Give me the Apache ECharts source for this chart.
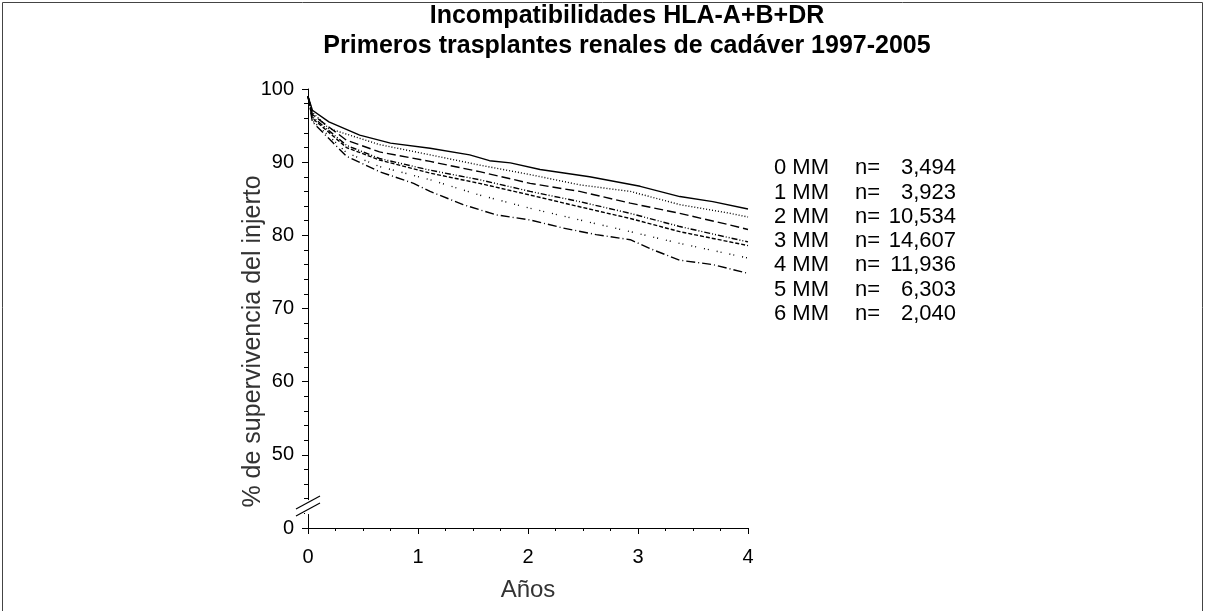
<!DOCTYPE html>
<html>
<head>
<meta charset="utf-8">
<script src="https://cdn.jsdelivr.net/npm/echarts@6/dist/echarts.min.js"></script>
<style>
  html, body { margin: 0; padding: 0; background: #fff; }
  #chart { width: 1205px; height: 611px; }
</style>
</head>
<body>
<div id="chart"></div>
<script>
const titleText = 'Incompatibilidades HLA-A+B+DR\nPrimeros trasplantes renales de cadáver 1997-2005';
const xName = 'Años';
const yName = '% de supervivencia del injerto';

const groupNames = ['0 MM', '1 MM', '2 MM', '3 MM', '4 MM', '5 MM', '6 MM'];
const groupCounts = ['3,494', '3,923', '10,534', '14,607', '11,936', '6,303', '2,040'];

// [años, % supervivencia]
const surv0 = [[0, 99], [0.04, 97.1], [0.19, 95.5], [0.47, 93.7], [0.75, 92.6], [1.11, 91.9], [1.47, 91.0], [1.65, 90.2], [1.84, 89.9], [2.11, 89.0], [2.56, 88.0], [3.02, 86.7], [3.38, 85.3], [3.68, 84.6], [4.0, 83.6]];
const surv1 = [[0, 99], [0.04, 96.8], [0.19, 94.6], [0.65, 92.4], [1.11, 91.0], [1.56, 89.6], [2.02, 88.3], [2.47, 86.9], [2.93, 86.0], [3.38, 84.2], [3.84, 83.0], [4.0, 82.5]];
const surv2 = [[0, 99], [0.04, 96.5], [0.35, 93.0], [0.65, 91.4], [1.11, 90.1], [1.56, 88.7], [2.02, 87.1], [2.47, 86.0], [2.93, 84.4], [3.38, 83.0], [3.84, 81.4], [4.0, 80.8]];
const surv3 = [[0, 99], [0.04, 96.2], [0.35, 92.3], [0.65, 90.5], [1.11, 88.9], [1.56, 87.6], [2.02, 86.0], [2.47, 84.6], [2.93, 83.0], [3.38, 81.2], [4.0, 79.1]];
const surv4 = [[0, 99], [0.04, 96.0], [0.35, 92.0], [0.65, 90.3], [1.11, 88.5], [1.56, 87.1], [2.02, 85.5], [2.47, 83.9], [2.93, 82.3], [3.38, 80.5], [4.0, 78.6]];
const surv5 = [[0, 99], [0.04, 95.7], [0.35, 91.3], [0.65, 89.4], [1.11, 87.6], [1.56, 85.5], [2.02, 83.7], [2.47, 82.1], [2.93, 80.5], [3.38, 78.9], [4.0, 76.9]];
const surv6 = [[0, 99], [0.04, 95.5], [0.35, 90.8], [0.65, 88.7], [0.96, 87.1], [1.11, 86.0], [1.41, 84.2], [1.71, 82.8], [2.02, 82.1], [2.32, 81.0], [2.62, 80.1], [2.93, 79.4], [3.14, 78.0], [3.38, 76.6], [3.68, 76.0], [4.0, 74.8]];

const survData = [surv0, surv1, surv2, surv3, surv4, surv5, surv6];
const dashes = ['solid', [1, 2], [9, 4], [6, 2, 1, 2, 1, 2], [4, 2], [1, 3, 1, 8], [9, 3, 1, 3]];

// el eje y corta entre 0 y 50: el valor 40 se dibuja como "0"
const yBreakValue = 40;

const font = '"Liberation Sans", Arial, Helvetica, sans-serif';
const chart = echarts.init(document.getElementById('chart'));

const option = {
    backgroundColor: '#fff',
    animation: false,
    title: {
        text: titleText,
        left: 622,
        top: -4,
        textAlign: 'center',
        textStyle: { fontFamily: font, fontSize: 25, fontWeight: 'bold', color: '#000', lineHeight: 30 }
    },
    legend: {
        orient: 'vertical',
        left: 763,
        top: 151,
        itemWidth: 0,
        itemHeight: 0,
        itemGap: 0,
        selectedMode: false,
        data: groupNames,
        formatter: (name) => {
            const i = groupNames.indexOf(name);
            return `{a|${name}}{b|n=}{c|${groupCounts[i]}}`;
        },
        textStyle: {
            fontFamily: font,
            fontSize: 22,
            color: '#000',
            lineHeight: 24.3,
            rich: {
                a: { width: 81, fontFamily: font, fontSize: 22, color: '#000' },
                b: { width: 25, fontFamily: font, fontSize: 22, color: '#000' },
                c: { width: 76, align: 'right', fontFamily: font, fontSize: 22, color: '#000' }
            }
        }
    },
    grid: { left: 308, right: 457, top: 89, bottom: 83 },
    xAxis: {
        type: 'value',
        min: 0,
        max: 4,
        interval: 1,
        name: xName,
        nameLocation: 'middle',
        nameGap: 50,
        nameMoveOverlap: false,
        nameTextStyle: { fontFamily: font, fontSize: 24, color: '#333' },
        axisLine: { lineStyle: { color: '#000', width: 1 } },
        axisTick: { length: 6, lineStyle: { color: '#000' } },
        minorTick: { show: true, splitNumber: 4, length: 3, lineStyle: { color: '#000' } },
        splitLine: { show: false },
        axisLabel: { fontFamily: font, fontSize: 20, color: '#000', margin: 19 }
    },
    yAxis: {
        type: 'value',
        min: yBreakValue,
        max: 100,
        interval: 10,
        name: yName,
        nameLocation: 'middle',
        nameGap: 42,
        nameMoveOverlap: false,
        nameTextStyle: { fontFamily: font, fontSize: 25, color: '#333', padding: [0, 66, 0, 0] },
        axisLine: { show: true, lineStyle: { color: '#000', width: 1 } },
        axisTick: { show: true, length: 6, lineStyle: { color: '#000' } },
        minorTick: { show: true, splitNumber: 5, length: 4, lineStyle: { color: '#000' } },
        splitLine: { show: false },
        axisLabel: {
            fontFamily: font, fontSize: 20, color: '#000', margin: 14,
            formatter: (v) => (v === yBreakValue ? '0' : String(v))
        }
    },
    series: survData.map((d, i) => ({
        name: groupNames[i],
        type: 'line',
        data: d,
        showSymbol: false,
        symbol: 'none',
        color: '#000',
        lineStyle: { color: '#000', width: 1.4, type: dashes[i] }
    }))
};

chart.setOption(option);

// marcas de corte del eje y y marco de la figura
const p = chart.convertToPixel({ gridIndex: 0 }, [0, 43]);
const breakLine = (dy) => ({
    type: 'line',
    shape: { x1: p[0] - 12, y1: p[1] + 6.5 + dy, x2: p[0] + 12, y2: p[1] - 6.5 + dy },
    style: { stroke: '#000', lineWidth: 1.2 }
});
chart.setOption({
    graphic: [
        { type: 'rect', shape: { x: p[0] - 3, y: p[1] - 6, width: 6, height: 14 }, style: { fill: '#fff' }, z: 100 },
        Object.assign(breakLine(-3.5), { z: 101 }),
        Object.assign(breakLine(3.5), { z: 101 }),
        { type: 'rect', shape: { x: 2.5, y: 2.5, width: 1200, height: 640 }, style: { fill: 'none', stroke: '#444', lineWidth: 1 }, silent: true }
    ]
});
</script>
</body>
</html>
